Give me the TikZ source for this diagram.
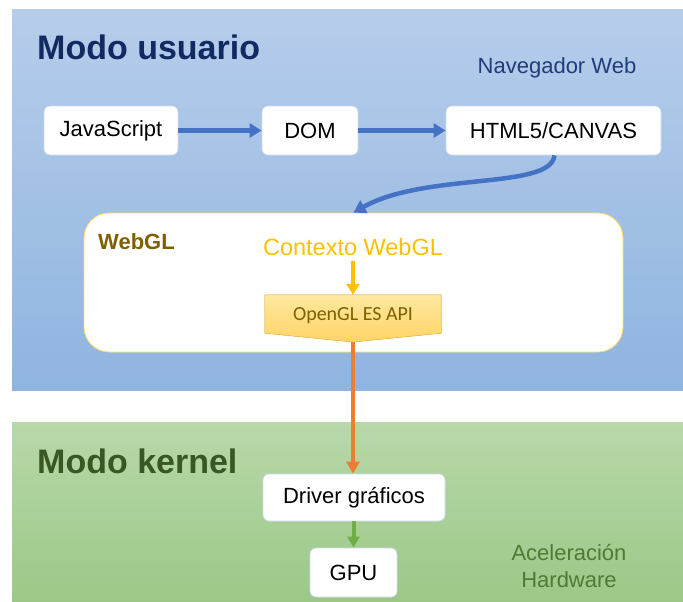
\documentclass[tikz,border=0pt]{standalone}
\usepackage{fontspec}
\setmainfont{Liberation Sans}
\newfontfamily\calfont{Carlito}
\usetikzlibrary{arrows.meta,calc}
\definecolor{bluetop}{RGB}{182,205,234}
\definecolor{bluebot}{RGB}{143,180,224}
\definecolor{greentop}{RGB}{184,216,170}
\definecolor{greenbot}{RGB}{155,200,135}
\definecolor{navy}{RGB}{18,42,98}
\definecolor{navylight}{RGB}{31,60,125}
\definecolor{kgreen}{RGB}{56,87,35}
\definecolor{hwgreen}{RGB}{80,122,52}
\definecolor{boxborder}{RGB}{205,218,236}
\definecolor{arrblue}{RGB}{68,114,196}
\definecolor{goldborder}{RGB}{255,217,102}
\definecolor{darkgold}{RGB}{127,96,0}
\definecolor{ctxgold}{RGB}{255,192,0}
\definecolor{apitop}{RGB}{255,232,160}
\definecolor{apibot}{RGB}{255,212,100}
\definecolor{apiborder}{RGB}{245,200,80}
\definecolor{orangearr}{RGB}{237,125,49}
\definecolor{greenarr}{RGB}{112,173,71}
\tikzset{
  x=1pt, y=-1pt,
  wbox/.style={draw=boxborder, line width=0.8pt, fill=white, rounded corners=6pt,
    font=\fontsize{22}{26}\selectfont, inner sep=0pt, minimum height=49pt},
  bluearrow/.style={draw=arrblue, line width=4.5pt, -{Triangle[length=12pt,width=14pt]}},
  goldarrow/.style={draw=ctxgold, line width=3.5pt, -{Triangle[length=11pt,width=13pt]}},
  orangearrow/.style={draw=orangearr, line width=4.5pt, -{Triangle[length=12pt,width=13pt]}},
  greenarrow/.style={draw=greenarr, line width=4pt, -{Triangle[length=11pt,width=12pt]}},
  title/.style={font=\fontsize{34}{40}\selectfont\bfseries, anchor=west, inner sep=0pt},
  plain/.style={font=\fontsize{22}{27}\selectfont, inner sep=0pt, align=center},
}
\begin{document}
\begin{tikzpicture}
\useasboundingbox (0,0) rectangle (683,602);
% regions
\fill[top color=bluetop, bottom color=bluebot] (12,10) rectangle (683,390);
\fill[top color=greentop, bottom color=greenbot] (12,422) rectangle (683,602);
% titles
\node[title, text=navy] (usr) at (37,47) {Modo usuario};
\node[plain, text=navylight] (nav) at (557,68) {Navegador Web};
\node[title, text=kgreen] (krn) at (37,461) {Modo kernel};
\node[plain, text=hwgreen] (hw) at (569,566) {Aceleración\\Hardware};
% top row
\node[wbox, minimum width=134pt] (js) at (111,130.5) {JavaScript};
\node[wbox, minimum width=96pt] (dom) at (310,130.5) {DOM};
\node[wbox, minimum width=215pt] (html) at (553.5,130.5) {HTML5/CANVAS};
\draw[bluearrow] (js) -- (dom);
\draw[bluearrow] (dom) -- (html);
% WebGL box
\node[draw=goldborder, line width=0.8pt, fill=white, rounded corners=25pt,
  minimum width=539pt, minimum height=139pt, inner sep=0pt] (webgl) at (353.5,282.5) {};
\draw[bluearrow] ($(html.south)+(1,0)$) .. controls (551,190) and (425,172) .. (webgl.north);
\node[font=\fontsize{22}{26}\selectfont\bfseries, text=darkgold, anchor=west, inner sep=0pt] (wlabel) at (98,242) {WebGL};
\node[plain, font=\fontsize{23.5}{28}\selectfont, text=ctxgold] (ctx) at (353,247) {Contexto WebGL};
% API shape
\node[minimum width=176pt, minimum height=38pt, inner sep=0pt] (api) at (353,314) {};
\coordinate (apitip) at (353,342);
\filldraw[draw=apiborder, line width=0.6pt, top color=apitop, bottom color=apibot]
  (api.north west) -- (api.north east) -- (api.south east) -- (apitip) -- (api.south west) -- cycle;
\node[font=\calfont\fontsize{20}{24}\selectfont, text=darkgold, inner sep=0pt] (apilabel) at (353,316) {OpenGL ES API};
\draw[goldarrow] ($(ctx.south)+(0,5)$) -- (api.north);
% kernel
\node[wbox, minimum width=182pt, minimum height=47pt] (drv) at (354,497.5) {Driver gráficos};
\node[wbox, minimum width=87pt] (gpu) at (353.5,572.5) {GPU};
\draw[orangearrow] (apitip) -- (drv.north -| apitip);
\draw[greenarrow] (drv.south -| gpu) -- (gpu.north);
\end{tikzpicture}
\end{document}
